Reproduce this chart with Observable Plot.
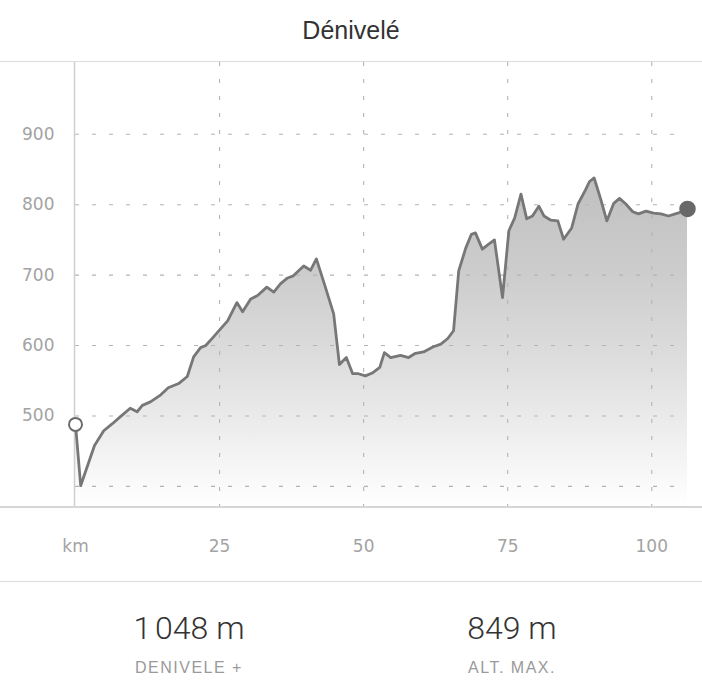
<!DOCTYPE html>
<html>
<head>
<meta charset="utf-8">
<script src="https://cdn.jsdelivr.net/npm/d3@7"></script>
<script src="https://cdn.jsdelivr.net/npm/@observablehq/plot@0.6"></script>
<style>
  body { margin: 0; background: #fff; font-family: "Liberation Sans", Arial, sans-serif; }
  #wrap { width: 702px; }
  #title { height: 62px; box-sizing: border-box; border-bottom: 1.5px solid #dcdcdc;
           text-align: center; font-size: 25px; color: #333; line-height: 60px; }
  #chart { position: relative; height: 519px; }
  #chart svg { display: block; }
  #chart .baseline { position: absolute; left: 0; right: 0; top: 444px; height: 1.5px; background: #d6d6d6; }
  #stats { position: relative; height: 110px; border-top: 1.5px solid #dcdcdc; }
  .stat { position: absolute; top: 0; width: 300px; text-align: center; }
  .val { position: absolute; left: 0; right: 0; top: 26px; line-height: 40px; font-size: 32px; color: #333;
         font-family: Roboto, "Liberation Sans", Arial, sans-serif; font-weight: 300; }
  .lab { position: absolute; left: 0; right: 0; top: 76px; line-height: 20px; font-size: 16px; color: #9a9a9a;
         letter-spacing: 1.5px; }
</style>
</head>
<body>
<div id="wrap">
  <div id="title"></div>
  <div id="chart"><div class="baseline"></div></div>
  <div id="stats"></div>
</div>
<script>
// ---- data ----
const titleText = "Dénivelé";
const km = [0, 0.9, 3.3, 4.9, 6.4, 7.8, 9.5, 10.7, 11.6, 13.0, 14.8, 16.1, 17.9, 19.4, 20.5, 21.7, 22.6, 23.8,
  25.2, 26.4, 28.0, 29.0, 30.4, 31.6, 33.2, 34.4, 35.6, 36.8, 37.8, 39.6, 40.8, 41.8, 43.4, 44.8, 45.8, 47.0,
  48.1, 49.1, 50.3, 51.5, 52.8, 53.6, 54.7, 56.4, 57.8, 59.0, 60.4, 62.0, 63.4, 64.6, 65.6, 66.5, 67.7, 68.7,
  69.4, 70.6, 71.7, 72.7, 74.1, 75.2, 76.2, 77.3, 78.3, 79.3, 80.4, 81.3, 82.5, 83.7, 84.7, 86.1, 87.2, 88.5,
  89.2, 90.0, 91.1, 92.2, 93.4, 94.4, 95.5, 96.7, 97.7, 99.0, 100.3, 101.6, 102.9, 104.5, 106.2];
const alt = [488, 401, 458, 479, 489, 499, 511, 506, 515, 520, 530, 540, 546, 556, 584, 597, 600, 611,
  624, 635, 661, 648, 666, 671, 683, 676, 688, 696, 699, 713, 707, 723, 682, 645, 573, 583,
  560, 560, 557, 561, 569, 590, 583, 586, 583, 589, 591, 598, 602, 610, 621, 706, 738, 758,
  760, 737, 744, 750, 668, 763, 781, 815, 780, 784, 798, 784, 778, 777, 751, 767, 801, 821,
  833, 838, 809, 777, 802, 809, 801, 790, 787, 791, 788, 787, 784, 788, 794];
const xTicks = [0, 25, 50, 75, 100];
const xGrid = [25, 50, 75, 100];
const yTicks = [500, 600, 700, 800, 900];
const yGrid = [400, 500, 600, 700, 800, 900];
const yDomain = [370, 1002];
const statValues = ["1\u202F048 m", "849 m"];
const statLabels = ["DENIVELE +", "ALT. MAX."];

// ---- build ----
document.getElementById("title").textContent = titleText;
const rows = km.map((k, i) => ({km: k, alt: alt[i]}));

const svg = Plot.plot({
  width: 702, height: 519,
  marginTop: 0, marginBottom: 74, marginLeft: 75, marginRight: 15,
  x: {domain: [0, d3.max(km)]},
  y: {domain: yDomain},
  style: {fontFamily: "DejaVu Sans, Liberation Sans, Arial, sans-serif", background: "transparent", overflow: "visible"},
  marks: [
    Plot.areaY(rows, {x: "km", y1: yDomain[0], y2: "alt", fill: "url(#elevGrad)"}),
    Plot.ruleY(yGrid, {stroke: "#b4b4b4", strokeWidth: 1.1, strokeDasharray: "4,13"}),
    Plot.ruleX(xGrid, {stroke: "#b4b4b4", strokeWidth: 1.1, strokeDasharray: "4,13"}),
    Plot.ruleX([0], {stroke: "#cfcfcf", strokeWidth: 1.5, dx: -1}),
    Plot.lineY(rows, {x: "km", y: "alt", stroke: "#777", strokeWidth: 2.8, strokeLinejoin: "round"}),
    Plot.dot([rows[0]], {x: "km", y: "alt", r: 6.5, fill: "white", stroke: "#6b6b6b", strokeWidth: 2}),
    Plot.dot([rows[rows.length - 1]], {x: "km", y: "alt", r: 7.5, fill: "#686868", stroke: "#686868"}),
    Plot.axisY(yTicks, {tickSize: 0, tickPadding: 21, fontSize: 17, fill: "#a3a3a3", label: null}),
    Plot.axisX(xTicks, {tickSize: 0, tickPadding: 32, fontSize: 17, fill: "#a3a3a3", label: null,
      tickFormat: d => d === 0 ? "km" : String(d)})
  ]
});

const defs = d3.select(svg).insert("defs", ":first-child");
const grad = defs.append("linearGradient").attr("id", "elevGrad")
  .attr("x1", 0).attr("y1", 0).attr("x2", 0).attr("y2", 1);
grad.append("stop").attr("offset", "0%").attr("stop-color", "#c0c0c0");
grad.append("stop").attr("offset", "30%").attr("stop-color", "#cdcdcd");
grad.append("stop").attr("offset", "55%").attr("stop-color", "#dddddd");
grad.append("stop").attr("offset", "100%").attr("stop-color", "#ffffff");

document.getElementById("chart").appendChild(svg);

const centers = [189, 512];
const stats = document.getElementById("stats");
statValues.forEach((v, i) => {
  const d = document.createElement("div");
  d.className = "stat";
  d.style.left = (centers[i] - 150) + "px";
  d.innerHTML = `<div class="val"></div><div class="lab"></div>`;
  d.querySelector(".val").textContent = v;
  d.querySelector(".lab").textContent = statLabels[i];
  stats.appendChild(d);
});
</script>
</body>
</html>
